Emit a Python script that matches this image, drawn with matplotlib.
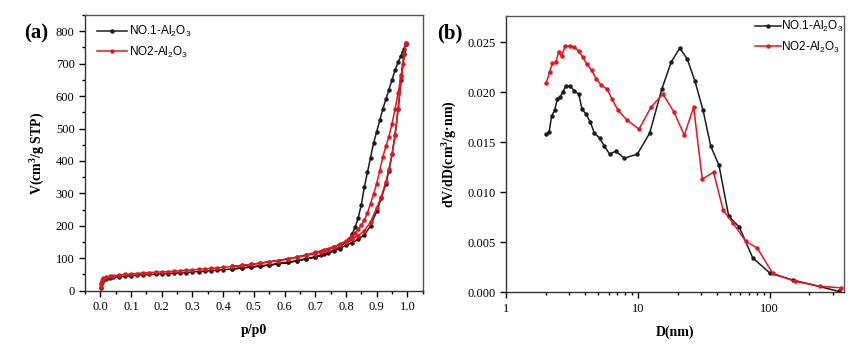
import numpy as np
import matplotlib
matplotlib.use("Agg")
import matplotlib.pyplot as plt
from matplotlib.ticker import MultipleLocator, FixedLocator, NullFormatter

plt.rcParams['font.family'] = ['Liberation Serif', 'DejaVu Serif']
plt.rcParams['mathtext.default'] = 'regular'

# ---------------- N2 isotherms, panel (a) ----------------
# adsorption branch, relative pressure
p_ads = [0.001, 0.003, 0.006, 0.01, 0.02, 0.03, 0.04, 0.06, 0.08, 0.10,
         0.12, 0.14, 0.16, 0.18, 0.20, 0.22, 0.24, 0.26, 0.28, 0.30,
         0.32, 0.34, 0.36, 0.38, 0.40, 0.43, 0.46, 0.49, 0.52, 0.55,
         0.58, 0.61, 0.64, 0.67, 0.70, 0.73, 0.76, 0.78, 0.80, 0.82,
         0.84, 0.86, 0.88, 0.90, 0.915, 0.93, 0.94, 0.95, 0.96, 0.97,
         0.98, 0.99, 0.995]
v_ads_1 = [8, 20, 28, 33, 37, 39, 41, 43, 45, 46,
           48, 49, 50, 51, 52, 53, 54, 55, 56, 58,
           59, 60, 62, 63, 65, 67, 70, 73, 76, 79,
           83, 87, 92, 98, 104, 112, 122, 130, 140, 148,
           158, 172, 200, 245, 285, 330, 370, 420, 480, 560,
           650, 730, 760]
v_ads_2 = [12, 25, 33, 38, 42, 44, 46, 48, 50, 52,
           53, 55, 56, 57, 58, 59, 60, 62, 63, 64,
           66, 67, 69, 70, 72, 75, 78, 81, 85, 89,
           93, 98, 104, 111, 118, 127, 136, 142, 150, 160,
           170, 185, 212, 255, 290, 335, 375, 420, 480, 560,
           660, 730, 765]

# desorption branch
p_des = [0.995, 0.99, 0.985, 0.98, 0.97, 0.96, 0.95, 0.94, 0.93, 0.92,
         0.91, 0.90, 0.89, 0.88, 0.87, 0.86, 0.85, 0.84, 0.83, 0.82,
         0.81, 0.80, 0.78, 0.76, 0.74, 0.72, 0.70, 0.67, 0.64, 0.61,
         0.58, 0.55, 0.52, 0.49, 0.46, 0.43]
v_des_1 = [760, 745, 735, 725, 705, 680, 650, 620, 590, 560,
           525, 490, 455, 410, 365, 320, 265, 225, 195, 175,
           160, 150, 135, 125, 116, 109, 104, 98, 92, 87,
           83, 79, 76, 73, 70, 67]
v_des_2 = [765, 730, 700, 665, 610, 560, 515, 475, 445, 412,
           370, 330, 298, 268, 240, 217, 202, 190, 178, 168,
           160, 153, 144, 134, 125, 119, 114, 109, 103, 98,
           93, 89, 85, 81, 78, 75]

# ---------------- pore size distribution, panel (b) ----------------
d_1 = [2.01, 2.12, 2.22, 2.34, 2.45, 2.57, 2.69, 2.84, 3.08, 3.30,
       3.56, 3.77, 4.05, 4.36, 4.68, 5.13, 5.57, 6.11, 6.79, 7.90,
       9.91, 12.3, 15.2, 17.9, 20.8, 23.7, 27.1, 31.2, 35.7, 41.2,
       48.9, 58.9, 74.3, 100.7, 149, 333]
dv_1 = [0.0158, 0.0160, 0.0176, 0.0182, 0.0193, 0.0195, 0.0200, 0.0206, 0.0206, 0.0201,
        0.0198, 0.0183, 0.0178, 0.0170, 0.0159, 0.0154, 0.0146, 0.0138, 0.0141, 0.0134,
        0.0138, 0.0159, 0.0203, 0.0230, 0.0244, 0.0233, 0.0211, 0.0182, 0.0146, 0.0127,
        0.0076, 0.0065, 0.00345, 0.0019, 0.00124, 0.0001]

d_2 = [2.02, 2.14, 2.25, 2.38, 2.51, 2.64, 2.81, 3.06, 3.30, 3.56,
       3.82, 4.11, 4.46, 4.84, 5.28, 5.84, 6.37, 7.07, 8.28, 10.2,
       12.6, 15.5, 18.8, 22.5, 26.5, 30.8, 37.5, 44.4, 52.8, 65.8,
       80.7, 105.4, 154.6, 242, 349]
dv_2 = [0.0209, 0.0220, 0.0229, 0.0230, 0.0240, 0.0236, 0.0246, 0.0246, 0.0245, 0.0241,
        0.0235, 0.0228, 0.0222, 0.0213, 0.0207, 0.0203, 0.0193, 0.0182, 0.0172, 0.0163,
        0.0185, 0.0198, 0.0180, 0.0157, 0.0185, 0.0113, 0.0120, 0.0082, 0.0069, 0.0051,
        0.0044, 0.0019, 0.0011, 0.0006, 0.00044]

labels = ['NO.1-Al$_2$O$_3$', 'NO2-Al$_2$O$_3$']
colors = ['#1c1c1c', '#e8141c']

fig = plt.figure(figsize=(8.58, 3.46), dpi=100)
axA = fig.add_axes([85 / 858, 1 - 290.7 / 346, (422.7 - 85) / 858, (290.7 - 15) / 346])
axB = fig.add_axes([506 / 858, 1 - 292.3 / 346, (844 - 506) / 858, (292.3 - 16) / 346])

mk = dict(marker='o', markersize=2.2, linewidth=1.1)
leg_font = {'family': 'Liberation Sans', 'size': 8.5}

# isotherms: adsorption + desorption drawn as one loop per sample
for v_a, v_d, c, lab in zip([v_ads_1, v_ads_2], [v_des_1, v_des_2], colors, labels):
    axA.plot(p_ads + p_des, v_a + v_d, color=c, label=lab, **mk)

axA.set_xlim(-0.05, 1.05)
axA.set_ylim(0, 850)
axA.xaxis.set_major_locator(MultipleLocator(0.1))
axA.xaxis.set_minor_locator(MultipleLocator(0.05))
axA.yaxis.set_major_locator(MultipleLocator(100))
axA.yaxis.set_minor_locator(MultipleLocator(50))
axA.xaxis.set_major_formatter(plt.FormatStrFormatter('%.1f'))
axA.set_xlabel('p/p0', fontweight='bold', fontsize=10, labelpad=8)
axA.set_ylabel('V(cm$^3$/g STP)', fontweight='bold', fontsize=10, labelpad=6)
axA.legend(loc='upper left', bbox_to_anchor=(0.0355, 0.967), frameon=False,
           handlelength=2.5, handletextpad=0.17, borderaxespad=0, borderpad=0,
           labelspacing=0.45, prop=leg_font)

for d, dv, c, lab in zip([d_1, d_2], [dv_1, dv_2], colors, labels):
    axB.plot(d, dv, color=c, label=lab, **mk)

axB.set_xscale('log')
axB.set_xlim(1, 366)
axB.set_ylim(0, 0.0276)
axB.yaxis.set_major_locator(MultipleLocator(0.005))
axB.yaxis.set_major_formatter(plt.FormatStrFormatter('%.3f'))
axB.xaxis.set_major_locator(FixedLocator([1, 10, 100]))
axB.xaxis.set_major_formatter(plt.FormatStrFormatter('%d'))
axB.xaxis.set_minor_formatter(NullFormatter())
axB.set_xlabel('D(nm)', fontweight='bold', fontsize=10, labelpad=8)
axB.set_ylabel('dV/dD(cm$^3$/g·nm)', fontweight='bold', fontsize=10, labelpad=6)
axB.legend(loc='upper right', bbox_to_anchor=(0.997, 0.989), frameon=False,
           handlelength=2.2, handletextpad=0.0, borderaxespad=0, borderpad=0,
           labelspacing=0.45, prop=leg_font)

for ax in (axA, axB):
    ax.tick_params(which='both', direction='out', labelsize=9, width=1)
    ax.tick_params(which='major', length=4)
    ax.tick_params(which='minor', length=2.5)
    for s in ax.spines.values():
        s.set_linewidth(1.0)
        s.set_color('#333333')
    ax.spines['top'].set_color('#555555')
    ax.spines['right'].set_color('#555555')

fig.text(24 / 858, 1 - 33 / 346, '(a)', fontsize=15, fontweight='bold', va='center')
fig.text(437 / 858, 1 - 33 / 346, '(b)', fontsize=15, fontweight='bold', va='center')

fig.savefig('out.png', dpi=100)
